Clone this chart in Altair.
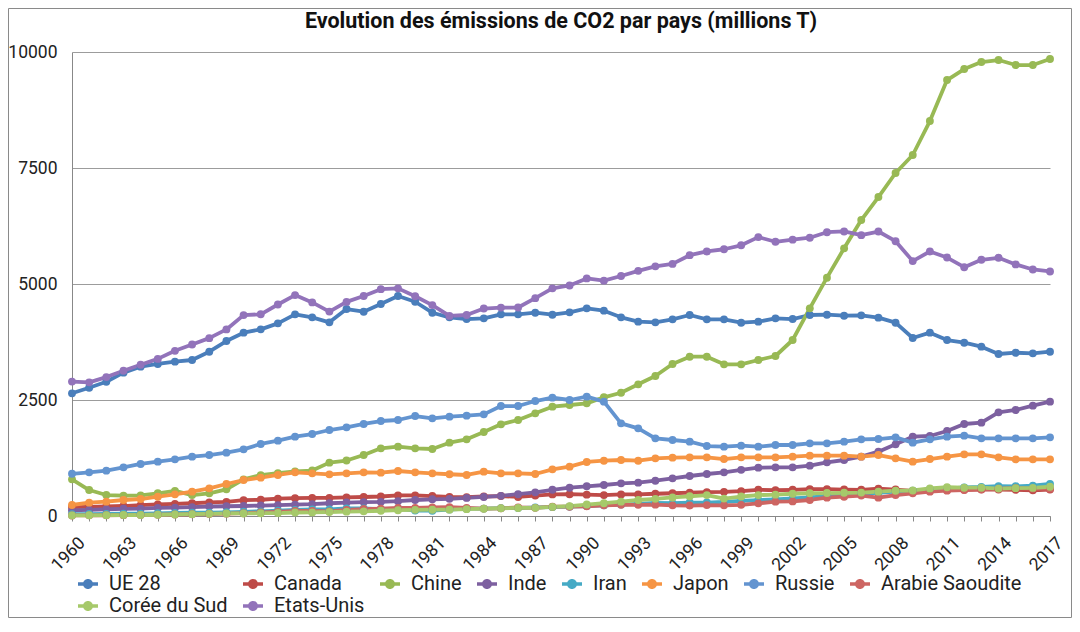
import altair as alt
import pandas as pd

years = list(range(1960, 2018))
label_years = [1960, 1963, 1966, 1969, 1972, 1975, 1978, 1981, 1984, 1987, 1990,
               1993, 1996, 1999, 2002, 2005, 2008, 2011, 2014, 2017]
y_ticks = [0, 2500, 5000, 7500, 10000]

series = ["UE 28", "Canada", "Chine", "Inde", "Iran", "Japon", "Russie",
          "Arabie Saoudite", "Corée du Sud", "Etats-Unis"]
colors = ["#4A7EBB", "#BE4B48", "#98B954", "#7D60A0", "#46AAC5", "#F69544",
          "#6394D0", "#CD6562", "#A6C96A", "#9273BA"]

ue28 = [2644, 2765, 2894, 3089, 3218, 3276, 3326, 3362, 3541, 3771,
        3951, 4023, 4152, 4346, 4282, 4174, 4461, 4403, 4569, 4741,
        4618, 4381, 4282, 4245, 4260, 4346, 4346, 4381, 4338, 4389,
        4475, 4425, 4282, 4188, 4174, 4238, 4332, 4238, 4238, 4166,
        4188, 4260, 4245, 4332, 4338, 4317, 4324, 4274, 4166, 3836,
        3951, 3793, 3735, 3649, 3491, 3519, 3505, 3541]
canada = [193, 195, 205, 215, 235, 250, 260, 275, 295, 305,
          340, 350, 375, 385, 390, 390, 400, 410, 420, 445,
          445, 430, 410, 405, 420, 430, 410, 440, 465, 470,
          460, 450, 465, 465, 480, 490, 505, 515, 520, 535,
          565, 555, 565, 580, 580, 570, 565, 590, 570, 540,
          555, 565, 565, 570, 570, 565, 555, 570]
chine = [790, 560, 452, 438, 445, 489, 540, 452, 489, 575,
         790, 880, 925, 960, 980, 1150, 1195, 1314, 1458, 1494,
         1458, 1444, 1580, 1652, 1810, 1976, 2069, 2213, 2356, 2392,
         2428, 2558, 2657, 2838, 3017, 3276, 3433, 3433, 3269, 3269,
         3362, 3448, 3793, 4475, 5136, 5769, 6379, 6874, 7392, 7780,
         8512, 9396, 9633, 9784, 9827, 9719, 9719, 9848]
inde = [120, 130, 145, 155, 160, 175, 180, 190, 205, 210,
        215, 225, 235, 245, 255, 275, 290, 300, 305, 320,
        345, 360, 370, 390, 410, 435, 470, 510, 565, 610,
        640, 668, 704, 718, 761, 812, 862, 905, 941, 995,
        1042, 1049, 1049, 1085, 1157, 1207, 1279, 1386, 1545, 1710,
        1724, 1832, 1983, 2012, 2234, 2285, 2378, 2464]
iran = [40, 42, 44, 48, 52, 58, 65, 70, 72, 80,
        91, 100, 115, 130, 143, 143, 165, 162, 149, 155,
        118, 114, 140, 158, 160, 170, 170, 185, 190, 200,
        212, 230, 246, 260, 280, 278, 290, 290, 303, 325,
        340, 360, 380, 400, 430, 452, 480, 500, 524, 545,
        575, 590, 618, 625, 645, 640, 654, 690]
japon = [237, 287, 309, 345, 366, 416, 467, 524, 596, 690,
         776, 826, 884, 941, 920, 898, 920, 941, 934, 970,
         941, 920, 900, 884, 955, 920, 920, 905, 1006, 1063,
         1165, 1192, 1207, 1192, 1243, 1257, 1264, 1264, 1228, 1264,
         1264, 1264, 1279, 1300, 1300, 1300, 1279, 1314, 1243, 1171,
         1228, 1279, 1329, 1329, 1264, 1221, 1221, 1221]
russie = [910, 941, 977, 1049, 1121, 1171, 1221, 1279, 1314, 1365,
          1437, 1552, 1624, 1710, 1767, 1853, 1911, 1983, 2047, 2069,
          2155, 2105, 2141, 2162, 2191, 2370, 2370, 2478, 2550, 2500,
          2572, 2464, 1997, 1889, 1674, 1638, 1602, 1508, 1494, 1516,
          1494, 1530, 1530, 1566, 1566, 1602, 1652, 1659, 1695, 1580,
          1652, 1710, 1731, 1674, 1674, 1674, 1674, 1695]
arabie = [12, 14, 16, 18, 22, 28, 32, 38, 42, 50,
          60, 75, 90, 110, 110, 100, 130, 150, 160, 175,
          175, 185, 190, 175, 160, 165, 185, 175, 200, 200,
          210, 230, 240, 240, 245, 230, 225, 235, 230, 240,
          273, 309, 315, 345, 395, 416, 440, 395, 452, 489,
          524, 546, 560, 575, 589, 600, 590, 589]
coree = [13, 15, 18, 21, 22, 27, 33, 40, 46, 55,
         55, 60, 64, 75, 78, 86, 93, 100, 113, 125,
         133, 136, 137, 148, 157, 167, 173, 176, 196, 214,
         247, 276, 309, 345, 370, 400, 425, 450, 375, 420,
         450, 460, 480, 490, 495, 500, 505, 525, 545, 550,
         595, 620, 610, 610, 590, 600, 605, 630]
etats_unis = [2897, 2881, 2994, 3131, 3261, 3386, 3560, 3695, 3833, 4021,
              4330, 4347, 4558, 4761, 4603, 4405, 4614, 4742, 4889, 4906,
              4736, 4545, 4313, 4332, 4471, 4492, 4493, 4695, 4907, 4969,
              5121, 5072, 5173, 5283, 5380, 5433, 5621, 5701, 5749, 5834,
              6011, 5910, 5956, 5998, 6116, 6132, 6052, 6131, 5922, 5493,
              5701, 5570, 5362, 5522, 5565, 5422, 5313, 5270]

all_values = [ue28, canada, chine, inde, iran, japon, russie, arabie, coree, etats_unis]

rows = []
for idx, (name, vals) in enumerate(zip(series, all_values)):
    for yr, v in zip(years, vals):
        rows.append({"pays": name, "annee": yr, "co2": v, "ordre": idx})
df = pd.DataFrame(rows)

W, H = 978, 464
PAD = {"left": 64, "top": 44, "right": 22, "bottom": 102}

FONT = "Roboto"
legend_shape = ("M-1,-0.17L1,-0.17L1,0.17L-1,0.17Z "
                "M0.5,0A0.5,0.5,0,1,1,-0.5,0A0.5,0.5,0,1,1,0.5,0Z")

x_enc = alt.X("annee:Q",
              scale=alt.Scale(domain=[1960, 2017], nice=False, zero=False),
              axis=alt.Axis(values=years, title=None, grid=False,
                            labelExpr="indexof(" + str(label_years) + ", datum.value) >= 0 ? '' + datum.value : ''",
                            labelAngle=-45, labelAlign="right", labelBaseline="middle",
                            labelOffset=10, labelPadding=19, tickSize=5,
                            labelOverlap=False, labelFlush=False, labelBound=False,
                            domainColor="#888888", tickColor="#888888",
                            labelFont=FONT, labelFontSize=17.5, labelColor="#222222"))
y_enc = alt.Y("co2:Q",
              scale=alt.Scale(domain=[0, 10000], nice=False),
              axis=alt.Axis(values=y_ticks, title=None, grid=True, gridColor="#9c9c9c",
                            gridWidth=1, ticks=False, domainColor="#888888",
                            labelPadding=15, labelFont=FONT, labelFontSize=17.5,
                            labelColor="#222222", format="d"))

color_scale = alt.Scale(domain=series, range=colors)

base = alt.Chart(df).encode(x=x_enc, y=y_enc, order=alt.Order("annee:Q"))

lines = base.mark_line(strokeWidth=3.8, strokeJoin="round", strokeCap="round").encode(
    color=alt.Color("pays:N", scale=color_scale, legend=None),
    detail="ordre:O",
)
points = base.mark_circle(size=62, opacity=1).encode(
    color=alt.Color("pays:N", scale=color_scale,
                    legend=alt.Legend(title=None, orient="none", legendX=6, legendY=522,
                                      direction="horizontal", columns=8,
                                      symbolType=legend_shape, symbolSize=400,
                                      symbolStrokeWidth=0, symbolOpacity=1,
                                      labelFont=FONT, labelFontSize=20, labelColor="#222222",
                                      labelOffset=11, columnPadding=15, rowPadding=2,
                                      gridAlign="each", labelLimit=400)),
)

frame = alt.Chart(pd.DataFrame({"k": [0]})).mark_rect(
    fill="transparent", stroke="#8a8a8a", strokeWidth=1
).encode(
    x=alt.value(-PAD["left"] + 0.5),
    x2=alt.value(W + PAD["right"] - 0.5),
    y=alt.value(-PAD["top"] + 0.5),
    y2=alt.value(H + PAD["bottom"] - 0.5),
)

chart = alt.layer(lines, points, frame).resolve_legend(color="independent").properties(
    width=W, height=H,
    padding=PAD,
    autosize=alt.AutoSizeParams(type="none"),
    background="white",
    title=alt.TitleParams(text="Evolution des émissions de CO2 par pays (millions T)",
                          anchor="middle", frame="group", font=FONT, fontSize=21.5,
                          fontWeight="bold", color="#111111", baseline="alphabetic",
                          offset=-41.5),
).configure_view(strokeWidth=0)

chart.save("out.html", embed_options={"renderer": "svg", "actions": False})
